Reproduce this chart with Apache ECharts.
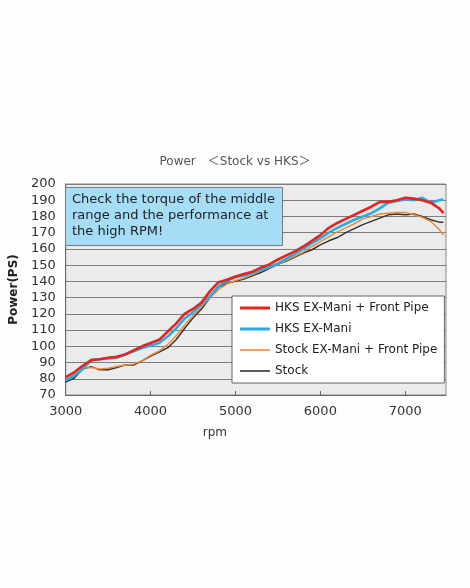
<!DOCTYPE html>
<html>
<head>
<meta charset="utf-8">
<script src="https://cdn.jsdelivr.net/npm/echarts@6/dist/echarts.min.js"></script>
<style>
  html, body { margin: 0; padding: 0; background: #fdfdfd; }
  #main { width: 470px; height: 588px; }
</style>
</head>
<body>
<div id="main"></div>
<script>
  // rpm steps
  var rpm = [3000, 3100, 3200, 3300, 3400, 3500, 3600, 3700, 3800, 3900,
    4000, 4100, 4200, 4300, 4400, 4500, 4600, 4700, 4800, 4900,
    5000, 5100, 5200, 5300, 5400, 5500, 5600, 5700, 5800, 5900,
    6000, 6100, 6200, 6300, 6400, 6500, 6600, 6700, 6800, 6900,
    7000, 7100, 7200, 7300, 7400, 7450]

  var hksFull = [81, 84, 88, 91.5, 92, 93, 93.5, 95, 97.5, 100,
    102, 104, 109, 114, 120, 123, 127, 134, 139.5, 141,
    143, 144.5, 146, 148.5, 150.5, 153.5, 156, 158.5, 161.5, 165,
    168.5, 173, 176, 178.5, 181, 183.5, 186, 189, 189, 190,
    191.5, 191, 190, 188.5, 185, 182]

  var hksMani = [79, 82, 86, 91.5, 92, 92.5, 93, 95, 97, 99,
    100.5, 102, 106, 111, 117, 121, 126, 131, 137, 140.5,
    142.5, 143.5, 145, 147, 149, 151, 154, 157, 160, 163.5,
    166.5, 170, 173, 175.5, 178, 180, 182, 185, 188.5, 189.5,
    190.5, 190, 191.5, 188.5, 190, 190.5]

  var stockPipe = [79, 82, 86.5, 87, 86, 86.5, 87.5, 88.5, 89, 91,
    94.5, 97, 101, 106.5, 113, 119, 124.5, 130, 135, 138.5,
    140.5, 142, 144, 146.5, 148.5, 150.5, 153, 155.5, 158, 161.5,
    164.5, 167.5, 170.5, 173, 175.5, 178.5, 180, 181.5, 182, 182.5,
    182.5, 181, 179.5, 177, 172, 168.5]

  var stock = [78, 80.5, 86, 87.5, 85.5, 85.5, 87, 88.5, 88.5, 91,
    94, 96.5, 99, 104, 111, 117.5, 123, 130, 136.5, 139,
    140, 141.5, 143.5, 145.5, 148, 150.5, 152.5, 155, 157.5, 159.5,
    162.5, 165, 167, 170, 172.5, 175, 177, 179, 181, 181.5,
    181, 181.5, 180, 178, 176.5, 176.5]

  var names = ['HKS EX-Mani + Front Pipe', 'HKS EX-Mani', 'Stock EX-Mani + Front Pipe', 'Stock']
  var colors = ['#e6231e', '#27ade4', '#ec8a3c', '#333333']
  var widths = [2.6, 2.6, 1.5, 1.5]
  var values = [hksFull, hksMani, stockPipe, stock]

  function pairs (ys) {
    return rpm.map(function (r, i) { return [r, ys[i]] })
  }

  var myChart = echarts.init(document.getElementById('main'))
  var font = 'DejaVu Sans, Verdana, sans-serif'

  var series = []
  for (var k = values.length - 1; k >= 0; k--) {
    series.push({
      name: names[k],
      type: 'line',
      symbol: 'none',
      smooth: false,
      data: pairs(values[k]),
      lineStyle: { color: colors[k], width: widths[k] },
      itemStyle: { color: colors[k] }
    })
  }

  // legend line icons, thick for the HKS ones
  var legendData = names.map(function (n, i) {
    var h = widths[i] > 2 ? 3 : 1.6
    return {
      name: n,
      icon: 'path://M0,0 L30,0 L30,' + h + ' L0,' + h + ' Z',
      itemStyle: { color: colors[i] }
    }
  })

  var option = {
    backgroundColor: '#fdfdfd',
    animation: false,
    title: {
      text: 'Power　＜Stock vs HKS＞',
      left: 'center',
      top: 151,
      textStyle: { fontSize: 12, fontWeight: 'normal', color: '#555', fontFamily: 'DejaVu Sans, Noto Sans CJK JP, sans-serif' }
    },
    grid: {
      left: 61,
      right: 24,
      top: 184,
      bottom: 193,
      show: true,
      backgroundColor: '#ebebeb',
      borderColor: '#8a8a8a',
      borderWidth: 1
    },
    legend: {
      data: legendData,
      orient: 'vertical',
      left: 232,
      top: 296,
      padding: [6, 7, 6, 8],
      itemWidth: 30,
      itemHeight: 14,
      itemGap: 9,
      backgroundColor: '#ffffff',
      borderColor: '#666',
      borderWidth: 1,
      textStyle: { fontSize: 12, color: '#222', fontFamily: font }
    },
    xAxis: {
      type: 'value',
      min: 3000,
      max: 7480,
      interval: 1000,
      name: 'rpm',
      nameLocation: 'middle',
      nameGap: 32,
      nameTextStyle: { fontSize: 12, color: '#333', fontFamily: font, padding: [0, 82, 0, 0] },
      axisLine: { show: true, lineStyle: { color: '#666' } },
      axisTick: { show: true, inside: true, length: 4, lineStyle: { color: '#666' } },
      axisLabel: {
        fontSize: 13,
        color: '#333',
        fontFamily: font,
        margin: 10,
        showMaxLabel: false,
        formatter: function (v) { return String(v) }
      },
      splitLine: { show: false }
    },
    yAxis: {
      type: 'value',
      min: 70,
      max: 200,
      interval: 10,
      name: 'Power(PS)',
      nameLocation: 'middle',
      nameGap: 42,
      nameTextStyle: { fontSize: 12, color: '#222', fontWeight: 'bold', fontFamily: font },
      axisLine: { show: true, lineStyle: { color: '#666' } },
      axisTick: { show: false },
      axisLabel: { fontSize: 13, color: '#333', fontFamily: font, margin: 10 },
      splitLine: { show: true, lineStyle: { color: '#7d7d7d', width: 1 } }
    },
    graphic: [{
      type: 'rect',
      left: 65,
      top: 187,
      z: 100,
      shape: { width: 217, height: 58 },
      style: { fill: '#a5dcf6', stroke: '#7a7a7a', lineWidth: 1 }
    }, {
      type: 'text',
      left: 72,
      top: 192,
      z: 101,
      style: {
        text: 'Check the torque of the middle\nrange and the performance at\nthe high RPM!',
        font: '13px ' + font,
        fill: '#222',
        lineHeight: 16
      }
    }],
    series: series
  }
  myChart.setOption(option)
</script>
</body>
</html>
